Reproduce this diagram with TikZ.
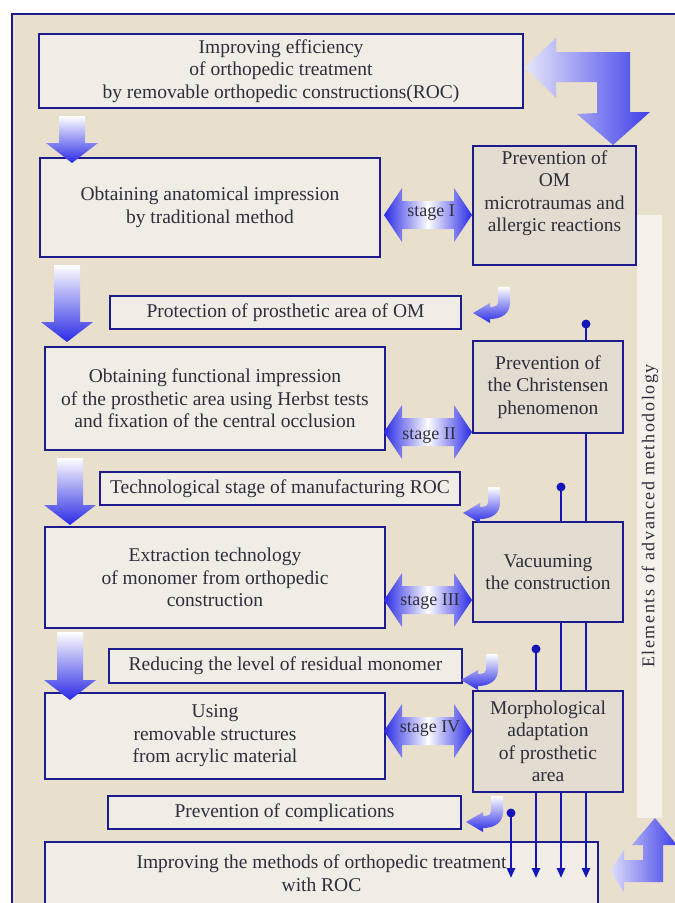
\documentclass[tikz,border=0pt]{standalone}
\usepackage{fontspec}
\setmainfont{Liberation Serif}
\newfontfamily\sidefont[LetterSpace=9]{Liberation Serif}
\usepackage{tikz}
\usetikzlibrary{arrows.meta,calc}
\definecolor{paper}{HTML}{E8E0CD}
\definecolor{boxfill}{HTML}{EFEDE5}
\definecolor{sidefill}{HTML}{E2DDD0}
\definecolor{frameblue}{HTML}{1C1C8C}
\definecolor{linkblue}{HTML}{1616B8}
\definecolor{shblue}{HTML}{2A2AE6}
\definecolor{ink}{HTML}{2E2E3C}

\tikzset{
  pics/downarrow/.style={code={
    \shade[top color=white,bottom color=shblue] (-13,0) -- (13,0) -- (13,#1-20) -- (26,#1-20)
      -- (0,#1) -- (-26,#1-20) -- (-13,#1-20) -- cycle;}},
  pics/hookarrow/.style={code={
    \shade[top color=white,bottom color=shblue] (-12,0) -- (0,0) -- (0,16)
      .. controls (0,26) and (-8,32) .. (-20,32) -- (-20,36) -- (-37,26) -- (-20,16) -- (-20,20)
      .. controls (-14,20) and (-12,18) .. (-12,16) -- cycle;}},
  pics/stagearrow/.style={code={
    \shade[left color=shblue,right color=white] (-44,0) -- (-26,-27) -- (-26,-14) -- (0.5,-14)
      -- (0.5,14) -- (-26,14) -- (-26,27) -- cycle;
    \shade[left color=white,right color=shblue] (44,0) -- (26,-27) -- (26,-14) -- (-0.5,-14)
      -- (-0.5,14) -- (26,14) -- (26,27) -- cycle;}}
}

\begin{document}
\begin{tikzpicture}[x=1pt,y=-1pt,
  mainbox/.style={draw=frameblue,line width=1.8pt,fill=boxfill,text=ink,align=center,
    inner sep=0pt,font=\fontsize{19.5}{22.5}\selectfont},
  sidebox/.style={mainbox,fill=sidefill,minimum width=150pt},
  notebox/.style={draw=frameblue,line width=1.1pt,fill=boxfill,text=ink,inner sep=0pt,
    font=\fontsize{19.5}{22.5}\selectfont},
  stagelbl/.style={text=ink,inner sep=0pt,font=\fontsize{18}{20}\selectfont},
  link/.style={linkblue,line width=2.4pt},
  tip/.style={-{Triangle[length=10pt,width=8pt]}}]
\useasboundingbox (0,0) rectangle (675,903);
\fill[white] (0,0) rectangle (675,903);
\filldraw[fill=paper,draw=frameblue,line width=1.2pt] (12,14) rectangle (700,930);

% side strip
\fill[white,opacity=0.6] (637,215) rectangle (662,818);
\node[rotate=90,text=ink,inner sep=0pt,font=\sidefont\fontsize{18}{20}\selectfont] (elem) at (650,516) {Elements of advanced methodology};

% big bent arrows
\shade[left color=shblue!12,right color=shblue!90] (525,67) -- (556,38) -- (556,52) -- (630,52) -- (630,112)
  -- (650,112) -- (613,145) -- (577,114) -- (597,113) -- (597,82) -- (556,82) -- (556,98) -- cycle;
\shade[left color=shblue!15,right color=shblue!90] (610,871) -- (624,850) -- (624,860) -- (643,860) -- (643,845)
  -- (632,845) -- (655,818) -- (677,845) -- (663,845) -- (663,882) -- (624,882) -- (624,892) -- cycle;

% boxes
\node[mainbox,minimum width=484pt,minimum height=74pt] (goal) at (281,71) {Improving efficiency\\of orthopedic treatment\\by removable orthopedic constructions(ROC)};
\node[mainbox,minimum width=340pt,minimum height=99pt] (st1) at (210,207.5) {Obtaining anatomical impression\\by traditional method};
\node[sidebox,minimum width=163pt,minimum height=119pt] (el1) at (554.5,205.5) {Prevention of\\OM\\microtraumas and\\allergic reactions\\[6pt]};
\node[notebox,minimum width=351pt,minimum height=33pt] (n1) at (285.5,312.5) {Protection of prosthetic area of OM};
\node[mainbox,minimum width=340pt,minimum height=103pt] (st2) at (215,398.5) {Obtaining functional impression\\of the prosthetic area using Herbst tests\\and fixation of the central occlusion};
\node[sidebox,minimum height=92pt] (el2) at (548,387) {Prevention of\\the Christensen\\phenomenon};
\node[notebox,minimum width=360pt,minimum height=33pt] (n2) at (280,488.5) {Technological stage of manufacturing ROC};
\node[mainbox,minimum width=340pt,minimum height=101pt] (st3) at (215,577.5) {Extraction technology\\of monomer from orthopedic\\construction};
\node[sidebox,minimum height=100pt] (el3) at (548,572) {Vacuuming\\the construction};
\node[notebox,minimum width=353pt,minimum height=34pt] (n3) at (285.5,666) {Reducing the level of residual monomer};
\node[mainbox,minimum width=340pt,minimum height=86pt] (st4) at (215,736) {Using\\removable structures\\from acrylic material};
\node[sidebox,minimum height=101pt] (el4) at (548,741.5) {Morphological\\adaptation\\of prosthetic\\area};
\node[notebox,minimum width=353pt,minimum height=33pt] (n4) at (284.5,812.5) {Prevention of complications};
\node[mainbox,minimum width=553pt,minimum height=62pt] (res) at (321.5,873) {Improving the methods of orthopedic treatment\\with ROC};

% flow arrows on the left
\pic at (72,116) {downarrow=47};
\pic at (67,265) {downarrow=77};
\pic at (70,458) {downarrow=67};
\pic at (70,632) {downarrow=68};

% hooks
\pic at (510,287) {hookarrow};
\pic at (500,487) {hookarrow};
\pic at (498,654) {hookarrow};
\pic at (503,796) {hookarrow};

% stages
\pic at (428,215) {stagearrow};
\pic at (428,432) {stagearrow};
\pic at (428,600) {stagearrow};
\pic at (428,731) {stagearrow};
\node[stagelbl] (s1) at (431,213) {stage I};
\node[stagelbl] (s2) at (429,436) {stage II};
\node[stagelbl] (s3) at (430,602) {stage III};
\node[stagelbl] (s4) at (430,729) {stage IV};

% methodology links
\coordinate (p1) at (586,324);
\coordinate (p2) at (561,487);
\coordinate (p3) at (536,649);
\coordinate (p4) at (511,813);
\coordinate (tips) at (0,878);
\draw[link] (p1) -- (p1 |- el2.north);
\draw[link] (el2.south -| p1) -- (el3.north -| p1);
\draw[link] (p2) -- (p2 |- el3.north);
\draw[link] (el3.south -| p1) -- (el4.north -| p1);
\draw[link] (el3.south -| p2) -- (el4.north -| p2);
\draw[link] (p3) -- (p3 |- el4.north);
\foreach \p in {p1,p2,p3}
  \draw[link,tip] (el4.south -| \p) -- (\p |- tips);
\draw[link,tip] (p4) -- (p4 |- tips);
\foreach \p in {p1,p2,p3,p4}
  \fill[linkblue] (\p) circle (4.5);
\end{tikzpicture}
\end{document}
